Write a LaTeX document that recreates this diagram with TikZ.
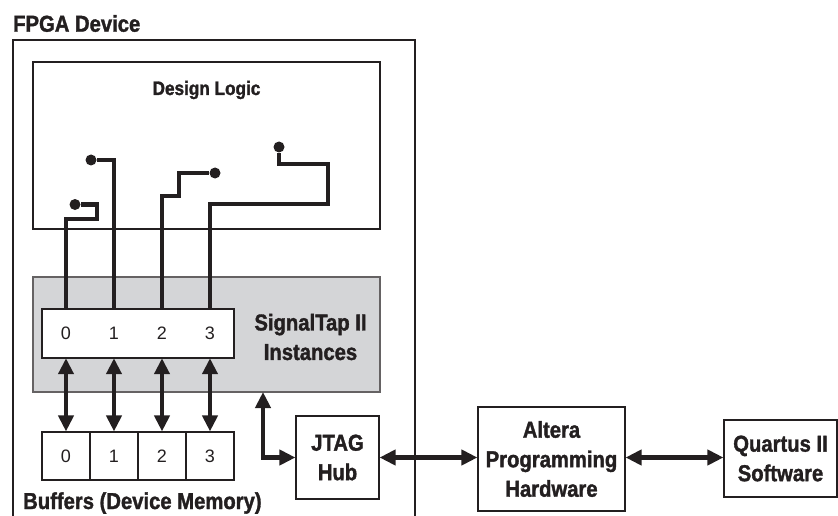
\documentclass[tikz,border=0pt]{standalone}
\usepackage{fontspec}
\newfontfamily\lab[FakeStretch=0.88,FakeBold=1.5]{Liberation Sans Bold}
\newfontfamily\dig{Liberation Sans}
\usetikzlibrary{arrows.meta}
\definecolor{stgray}{HTML}{D4D5D7}
\definecolor{ink}{HTML}{231F20}
\begin{document}
\begin{tikzpicture}[x=1pt,y=-1pt,
  box/.style={draw=ink,line width=1.1pt,inner sep=0pt},
  cell/.style={inner sep=0pt,minimum width=48pt,minimum height=49pt,font=\fontsize{18}{20}\dig,text=ink},
  bcell/.style={box,fill=white,minimum width=48pt,minimum height=48pt,font=\fontsize{18}{20}\dig,text=ink},
  biglab/.style={inner sep=0pt,align=center,text=ink,font=\fontsize{23}{29.5}\lab},
  wire/.style={line width=4.2pt,draw=ink},
  dot/.style={circle,fill=ink,inner sep=0pt,minimum size=11pt},
  darr/.style={line width=4.2pt,draw=ink,{Triangle[length=16pt,width=15pt]}-{Triangle[length=16pt,width=15pt]}}
]
\useasboundingbox (0,0) rectangle (838,516);
% FPGA device outline (open at bottom)
\draw[draw=ink,line width=1.1pt] (13,516) |- (415,40) -- (415,516);
\node[biglab,anchor=base west] (fpgalab) at (13,31.7) {FPGA Device};
% design logic
\node[box,minimum width=347pt,minimum height=167pt] (dl) at (206.5,145.5) {};
\node[inner sep=0pt,text=ink,font=\fontsize{19.5}{22}\lab,anchor=base] (dllab) at (206.5,95) {Design Logic};
% SignalTap instances
\node[box,draw=ink!70,fill=stgray,minimum width=347pt,minimum height=115pt] (stp) at (206.5,334.5) {};
\node[box,fill=white,minimum width=192pt,minimum height=49pt] (inst) at (138,333.5) {};
\foreach \i/\x in {0/66,1/114,2/162,3/210}{
  \node[cell] (u\i) at (\x,333.5) {\i};
  \node[bcell] (b\i) at (\x,456) {\i};
  \draw[darr] (u\i.south) -- (b\i.north);
}
\node[biglab] (stplab) at (310.5,337) {SignalTap II\\Instances};
\node[biglab,anchor=base west] (buflab) at (23,509) {Buffers (Device Memory)};
% signal dots and wires
\node[dot] (d0) at (75,204.5) {};
\node[dot] (d1) at (91,160) {};
\node[dot] (d2) at (215,173) {};
\node[dot] (d3) at (279,147) {};
\draw[wire] (u0.north) |- (97,219) |- (d0);
\draw[wire] (u1.north) |- (d1);
\draw[wire] (u2.north) |- (179,196) |- (d2);
\draw[wire] (u3.north) |- (328,204) |- (279,164) -- (d3);
% JTAG, programming hardware, software
\node[box,biglab,minimum width=83pt,minimum height=83pt] (jtag) at (337.5,457.5) {JTAG\\Hub};
\node[box,biglab,minimum width=147pt,minimum height=104pt] (alt) at (551.5,459) {Altera\\Programming\\Hardware};
\node[box,biglab,minimum width=113pt,minimum height=77pt] (qii) at (780.5,458.5) {Quartus II\\Software};
\coordinate (stpport) at (263,392);
\draw[darr] (stpport) |- (jtag.west);
\draw[darr] (jtag.east) -- (jtag.east -| alt.west);
\draw[darr] (alt.east |- jtag.east) -- (jtag.east -| qii.west);
\end{tikzpicture}
\end{document}
